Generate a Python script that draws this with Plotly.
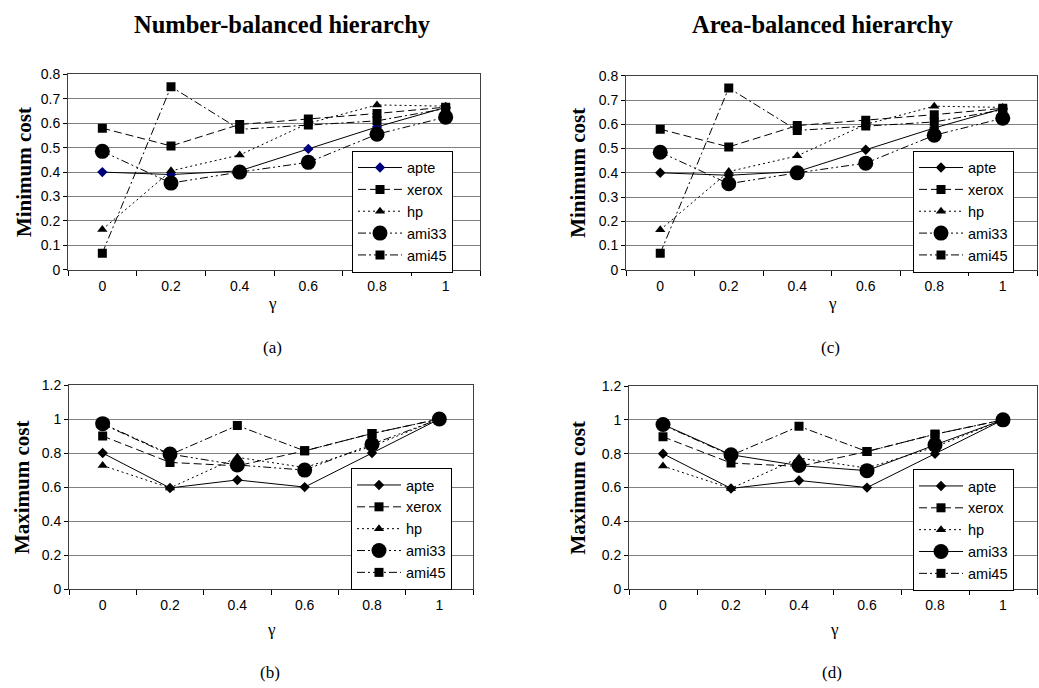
import plotly.graph_objects as go

W, H = 1039, 688

gamma = ["0", "0.2", "0.4", "0.6", "0.8", "1"]
series_names = ["apte", "xerox", "hp", "ami33", "ami45"]

min_apte = [0.40, 0.39, 0.405, 0.495, 0.585, 0.665]
min_xerox = [0.58, 0.507, 0.595, 0.617, 0.64, 0.666]
min_hp = [0.165, 0.405, 0.47, 0.60, 0.675, 0.67]
min_ami33 = [0.485, 0.355, 0.40, 0.44, 0.555, 0.625]
min_ami45 = [0.068, 0.75, 0.575, 0.593, 0.61, 0.66]

max_apte = [0.80, 0.595, 0.642, 0.60, 0.80, 1.0]
max_xerox = [0.90, 0.745, 0.725, 0.813, 0.915, 1.0]
max_hp = [0.727, 0.595, 0.775, 0.715, 0.84, 1.0]
max_ami33 = [0.973, 0.794, 0.73, 0.70, 0.852, 1.0]
max_ami45 = [0.97, 0.79, 0.962, 0.813, 0.915, 1.0]

min_tickvals = [0, 0.1, 0.2, 0.3, 0.4, 0.5, 0.6, 0.7, 0.8]
min_ticktext = ["0", "0.1", "0.2", "0.3", "0.4", "0.5", "0.6", "0.7", "0.8"]
max_tickvals = [0, 0.2, 0.4, 0.6, 0.8, 1.0, 1.2]
max_ticktext = ["0", "0.2", "0.4", "0.6", "0.8", "1", "1.2"]

min_data = [min_apte, min_xerox, min_hp, min_ami33, min_ami45]
max_data = [max_apte, max_xerox, max_hp, max_ami33, max_ami45]

DASH = {
    "xerox": "8px,4px",
    "hp": "2px,3px",
    "ami33": "8px,3px,2px,3px,2px,3px",
    "ami45": "8px,3px,2px,3px",
}
MARK = {
    "apte": ("diamond", 8),
    "xerox": ("square", 9),
    "hp": ("triangle-up", 9),
    "ami33": ("circle", 15),
    "ami45": ("square", 9),
}

# panel pixel boxes: (x0, x1, ytop, ybottom)
panels = {
    "a": dict(box=(68, 480, 68, 268), data=min_data, rng=0.8, tv=min_tickvals, tt=min_ticktext,
              title="Minimum cost", apte_color="#00007a", ami33_dash=DASH["ami33"],
              legend_xy=(352, 146), ytitle_x=24, label_x=272, label_y=348, gamma_x=272, gamma_y=303),
    "c": dict(box=(626, 1037, 69.5, 268), data=min_data, rng=0.8, tv=min_tickvals, tt=min_ticktext,
              title="Minimum cost", apte_color="black", ami33_dash=DASH["ami33"],
              legend_xy=(913, 146), ytitle_x=578, label_x=830, label_y=348, gamma_x=832, gamma_y=303),
    "b": dict(box=(69, 473, 386, 595), data=max_data, rng=1.2, tv=max_tickvals, tt=max_ticktext,
              title="Maximum cost", apte_color="black", ami33_dash=DASH["ami33"],
              legend_xy=(351, 471), ytitle_x=22, label_x=270, label_y=680, gamma_x=271, gamma_y=636),
    "d": dict(box=(629, 1037, 387, 595), data=max_data, rng=1.2, tv=max_tickvals, tt=max_ticktext,
              title="Maximum cost", apte_color="black", ami33_dash="solid",
              legend_xy=(913, 472), ytitle_x=578, label_x=832, label_y=680, gamma_x=834, gamma_y=636),
}

fig = go.Figure()
layout = {}
annotations = []
for i, (key, p) in enumerate(panels.items(), start=1):
    xa = "x" if i == 1 else f"x{i}"
    ya = "y" if i == 1 else f"y{i}"
    lg = "legend" if i == 1 else f"legend{i}"
    x0, x1, yt, yb = p["box"]
    for name, vals in zip(series_names, p["data"]):
        sym, size = MARK[name]
        if name == "apte":
            dash = "solid"
            mcolor = p["apte_color"]
        elif name == "ami33":
            dash = p["ami33_dash"]
            mcolor = "black"
        else:
            dash = DASH[name]
            mcolor = "black"
        fig.add_trace(go.Scatter(
            x=gamma, y=vals, name=name, mode="lines+markers",
            line=dict(color="black", width=1, dash=dash),
            marker=dict(symbol=sym, size=size, color=mcolor, line=dict(width=0)),
            xaxis=xa, yaxis=ya, legend=lg, showlegend=True,
        ))
    xkey = "xaxis" if i == 1 else f"xaxis{i}"
    ykey = "yaxis" if i == 1 else f"yaxis{i}"
    layout[xkey] = dict(
        domain=[x0 / W, x1 / W], anchor=ya, type="category",
        categoryorder="array", categoryarray=gamma, range=[-0.5, 5.5],
        tickson="boundaries", ticks="outside", ticklen=5, tickcolor="black", tickwidth=1,
        ticklabelstandoff=3,
        showline=True, linecolor="#404040", linewidth=1, mirror=True,
        showgrid=False, zeroline=False,
        tickfont=dict(family="Liberation Sans, Arial", size=14, color="black"),
    )
    layout[ykey] = dict(
        domain=[1 - yb / H, 1 - yt / H], anchor=xa, range=[0, p["rng"]],
        tickvals=p["tv"], ticktext=p["tt"], ticks="outside", ticklen=4,
        tickcolor="black", tickwidth=1,
        showline=True, linecolor="#404040", linewidth=1, mirror=True,
        showgrid=True, gridcolor="#808080", gridwidth=1, zeroline=False,
        tickfont=dict(family="Liberation Sans, Arial", size=14, color="black"),
    )
    lx, ly = p["legend_xy"]
    layout[lg] = dict(
        x=lx / W, y=1 - ly / H, xanchor="left", yanchor="top",
        xref="paper", yref="paper",
        bgcolor="white", bordercolor="black", borderwidth=1,
        font=dict(family="Liberation Sans, Arial", size=14.5, color="black"),
        itemwidth=44, tracegroupgap=0,
    )
    annotations.append(dict(
        text=f"<b>{p['title']}</b>", x=p["ytitle_x"] / W, y=1 - ((yt + yb) / 2) / H,
        xref="paper", yref="paper", showarrow=False, textangle=-90,
        xanchor="center", yanchor="middle",
        font=dict(family="Liberation Serif, Times New Roman", size=21, color="black"),
    ))
    annotations.append(dict(
        text="γ", x=p["gamma_x"] / W, y=1 - p["gamma_y"] / H,
        xref="paper", yref="paper", showarrow=False, xanchor="center", yanchor="middle",
        font=dict(family="Liberation Serif, Times New Roman", size=17, color="black"),
    ))
    annotations.append(dict(
        text=f"({key})", x=p["label_x"] / W, y=1 - p["label_y"] / H,
        xref="paper", yref="paper", showarrow=False, xanchor="center", yanchor="middle",
        font=dict(family="Liberation Serif, Times New Roman", size=17, color="black"),
    ))

annotations.append(dict(
    text="<b>Number-balanced hierarchy</b>", x=282 / W, y=1 - 17 / H,
    xref="paper", yref="paper", showarrow=False, xanchor="center", yanchor="middle",
    font=dict(family="Liberation Serif, Times New Roman", size=24.5, color="black"),
))
annotations.append(dict(
    text="<b>Area-balanced hierarchy</b>", x=823 / W, y=1 - 17 / H,
    xref="paper", yref="paper", showarrow=False, xanchor="center", yanchor="middle",
    font=dict(family="Liberation Serif, Times New Roman", size=24.5, color="black"),
))

fig.update_layout(
    width=W, height=H, margin=dict(l=0, r=0, t=0, b=0),
    paper_bgcolor="white", plot_bgcolor="white",
    annotations=annotations, **layout,
)

fig.write_html("out.html")
